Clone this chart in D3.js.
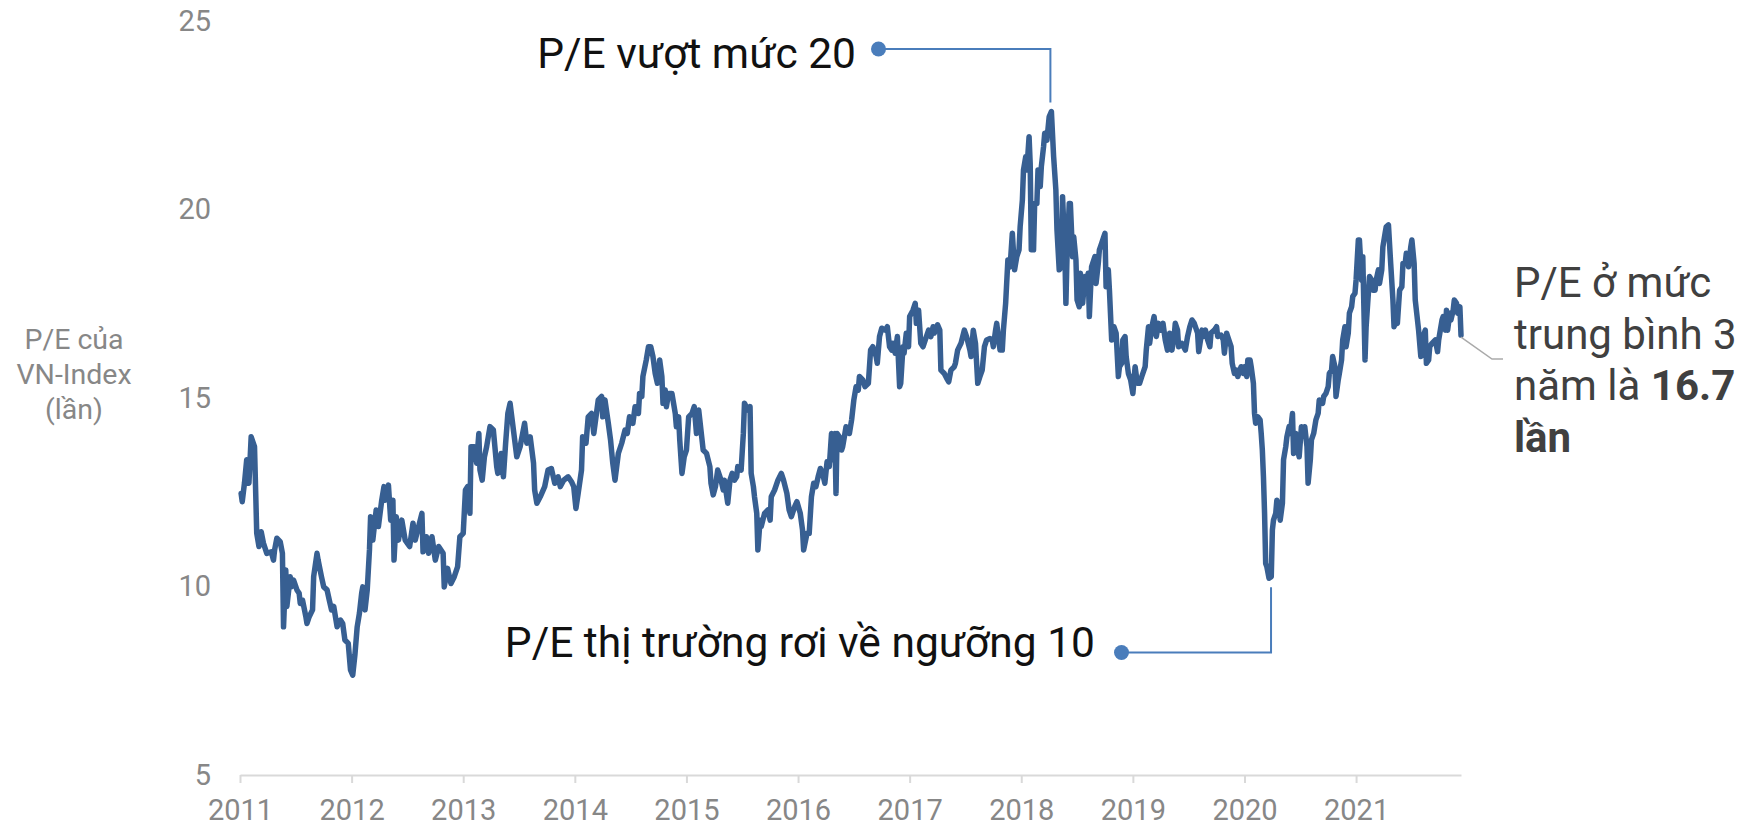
<!DOCTYPE html>
<html>
<head>
<meta charset="utf-8">
<script src="https://cdn.jsdelivr.net/npm/d3@7"></script>
<style>
  body { margin: 0; background: #fff; }
  svg { display: block; font-family: Roboto, "Noto Sans", sans-serif; }
</style>
</head>
<body>
<div id="chart"></div>
<script>
// P/E của VN-Index: [year as decimal, P/E]
var pe2011_2012 = [
  [2011.01,12.47],[2011.02,12.25],[2011.04,12.74],[2011.06,13.36],[2011.08,12.74],[2011.10,13.97],[2011.13,13.71],[2011.15,11.41],
  [2011.17,11.06],[2011.19,11.45],[2011.21,11.15],[2011.24,10.88],[2011.28,10.92],[2011.30,10.70],[2011.31,10.97],[2011.33,11.28],
  [2011.36,11.19],[2011.38,10.88],[2011.39,8.93],[2011.41,10.44],[2011.42,9.47],[2011.45,10.26],[2011.46,9.99],[2011.48,10.17],
  [2011.51,9.91],[2011.53,9.82],[2011.54,9.55],[2011.56,9.64],[2011.59,9.20],[2011.60,9.02],[2011.62,9.20],[2011.65,9.38],
  [2011.66,10.26],[2011.69,10.88],[2011.70,10.70],[2011.73,10.26],[2011.75,9.99],[2011.78,9.91],[2011.80,9.64],[2011.82,9.38],
  [2011.84,9.47],[2011.87,8.93],[2011.90,9.11],[2011.92,9.02],[2011.94,8.58],[2011.97,8.49],[2011.99,7.79],
  [2012.01,7.65],[2012.03,8.20],[2012.05,8.93],[2012.07,9.29],[2012.09,9.82],[2012.10,9.99],[2012.12,9.38],[2012.14,9.91],
  [2012.16,10.97],[2012.17,11.85],[2012.19,11.23],[2012.22,12.03],[2012.24,11.59],[2012.27,12.29],[2012.29,12.65],[2012.30,12.29],
  [2012.33,12.69],[2012.35,11.76],[2012.37,12.29],[2012.38,10.70],[2012.40,11.85],[2012.42,11.23],[2012.45,11.76],[2012.48,11.23],
  [2012.52,11.06],[2012.55,11.68],[2012.57,11.23],[2012.63,11.94],[2012.64,10.92],[2012.67,11.32],[2012.69,10.88],[2012.72,11.32],
  [2012.75,10.70],[2012.78,11.06],[2012.82,10.88],[2012.83,9.99],[2012.86,10.48],[2012.89,10.08],[2012.92,10.26],[2012.95,10.53],
  [2012.97,11.32]
];
var pe2013_2014 = [
  [2013.00,11.41],[2013.02,12.56],[2013.04,12.65],[2013.06,11.94],[2013.07,13.71],[2013.10,13.71],[2013.12,13.27],[2013.14,14.06],
  [2013.15,13.09],[2013.17,12.82],[2013.19,13.44],[2013.21,13.71],[2013.24,14.24],[2013.27,14.15],[2013.30,13.18],[2013.31,13.00],
  [2013.34,13.53],[2013.36,12.91],[2013.38,13.80],[2013.40,14.59],[2013.42,14.86],[2013.45,14.15],[2013.48,13.44],[2013.51,13.71],
  [2013.55,14.33],[2013.57,13.80],[2013.60,13.97],[2013.63,13.27],[2013.64,12.56],[2013.66,12.21],[2013.69,12.38],[2013.73,12.65],
  [2013.76,13.09],[2013.79,13.13],[2013.82,12.74],[2013.85,12.91],[2013.87,12.65],[2013.90,12.82],[2013.94,12.91],[2013.97,12.78],
  [2013.99,12.65],
  [2014.01,12.07],[2014.03,12.47],[2014.06,13.09],[2014.07,13.97],[2014.10,13.80],[2014.12,14.50],[2014.15,14.59],[2014.17,14.06],
  [2014.21,14.95],[2014.24,15.04],[2014.25,14.50],[2014.27,14.95],[2014.30,14.33],[2014.32,13.89],[2014.34,13.27],[2014.36,12.82],
  [2014.39,13.53],[2014.42,13.80],[2014.45,14.15],[2014.47,14.06],[2014.49,14.50],[2014.52,14.33],[2014.54,14.77],[2014.57,14.59],
  [2014.58,15.12],[2014.60,15.04],[2014.61,15.57],[2014.64,16.01],[2014.66,16.36],[2014.68,16.36],[2014.70,16.10],[2014.72,15.65],
  [2014.74,15.39],[2014.76,16.01],[2014.78,15.57],[2014.79,14.86],[2014.81,15.21],[2014.82,14.77],[2014.84,15.12],[2014.87,15.12],
  [2014.90,14.59],[2014.91,14.24],[2014.93,14.50],[2014.94,13.89],[2014.96,13.00],[2014.98,13.44]
];
var pe2015_2016 = [
  [2015.00,13.62],[2015.02,14.50],[2015.05,14.59],[2015.07,14.77],[2015.09,14.06],[2015.11,14.68],[2015.13,14.15],[2015.15,13.62],
  [2015.18,13.53],[2015.21,13.18],[2015.22,12.74],[2015.24,12.43],[2015.26,12.65],[2015.28,13.09],[2015.31,12.82],[2015.33,12.56],
  [2015.34,12.82],[2015.37,12.21],[2015.39,12.82],[2015.41,13.00],[2015.43,12.82],[2015.45,12.91],[2015.46,13.18],[2015.49,13.09],
  [2015.51,14.06],[2015.52,14.86],[2015.55,14.68],[2015.57,14.77],[2015.58,13.00],[2015.60,12.65],[2015.61,12.38],[2015.63,11.94],
  [2015.64,10.97],[2015.66,11.76],[2015.67,11.59],[2015.70,11.94],[2015.73,12.03],[2015.75,11.76],[2015.76,12.38],[2015.79,12.56],
  [2015.82,12.82],[2015.85,13.00],[2015.87,12.82],[2015.90,12.47],[2015.92,12.03],[2015.94,11.85],[2015.97,12.12],[2015.99,12.25],
  [2016.02,11.94],[2016.04,11.50],[2016.05,10.97],[2016.08,11.41],[2016.10,11.41],[2016.12,12.38],[2016.14,12.74],[2016.16,12.65],
  [2016.18,12.91],[2016.20,13.13],[2016.22,13.00],[2016.24,12.74],[2016.26,13.31],[2016.28,13.18],[2016.30,14.06],[2016.31,13.36],
  [2016.33,14.06],[2016.34,12.47],[2016.35,14.06],[2016.37,13.97],[2016.39,13.62],[2016.40,13.71],[2016.42,14.06],[2016.43,14.24],
  [2016.46,14.06],[2016.48,14.42],[2016.50,14.95],[2016.52,15.30],[2016.54,15.21],[2016.55,15.57],[2016.58,15.48],[2016.60,15.30],
  [2016.63,15.39],[2016.65,16.27],[2016.67,16.36],[2016.70,16.10],[2016.71,15.92],[2016.73,16.63],[2016.75,16.85],[2016.78,16.80],
  [2016.80,16.89],[2016.82,16.36],[2016.84,16.27],[2016.85,16.45],[2016.87,16.19],[2016.89,16.63],[2016.91,15.30],[2016.92,15.39],
  [2016.94,16.36],[2016.95,16.19],[2016.97,16.72],[2016.99,16.36]
];
var pe2017_2018 = [
  [2017.00,17.16],[2017.03,17.33],[2017.05,17.51],[2017.06,16.98],[2017.08,17.33],[2017.10,16.45],[2017.12,16.36],[2017.14,16.54],
  [2017.17,16.80],[2017.19,16.63],[2017.21,16.89],[2017.22,16.72],[2017.25,16.94],[2017.27,16.80],[2017.28,15.74],[2017.31,15.65],
  [2017.34,15.48],[2017.35,15.43],[2017.37,15.74],[2017.40,15.83],[2017.41,15.92],[2017.43,16.27],[2017.46,16.45],[2017.49,16.80],
  [2017.51,16.63],[2017.54,16.27],[2017.55,16.10],[2017.57,16.80],[2017.59,16.45],[2017.61,15.39],[2017.63,15.57],[2017.65,15.74],
  [2017.67,16.36],[2017.69,16.54],[2017.72,16.58],[2017.74,16.54],[2017.75,16.36],[2017.77,16.80],[2017.78,16.98],[2017.81,16.27],
  [2017.83,16.27],[2017.84,16.80],[2017.86,17.51],[2017.88,18.66],[2017.90,18.48],[2017.92,19.37],[2017.94,18.40],[2017.96,18.75],
  [2017.98,18.93],[2017.99,19.54],
  [2018.01,20.25],[2018.02,21.05],[2018.04,21.40],[2018.05,21.05],[2018.07,21.93],[2018.08,21.22],[2018.09,18.93],[2018.11,18.93],
  [2018.12,20.16],[2018.14,20.16],[2018.15,21.05],[2018.17,20.61],[2018.18,21.14],[2018.20,21.67],[2018.21,22.02],[2018.23,21.84],
  [2018.25,22.46],[2018.27,22.60],[2018.29,21.40],[2018.31,20.52],[2018.32,19.46],[2018.34,18.40],[2018.36,18.48],[2018.37,20.34],
  [2018.39,18.93],[2018.40,17.51],[2018.41,18.75],[2018.43,20.16],[2018.44,20.16],[2018.46,18.75],[2018.47,19.28],[2018.49,18.66],
  [2018.50,17.60],[2018.52,17.42],[2018.53,18.31],[2018.55,17.51],[2018.57,18.22],[2018.58,17.86],[2018.60,18.31],[2018.61,17.16],
  [2018.63,18.48],[2018.64,18.57],[2018.66,18.75],[2018.67,18.04],[2018.69,18.57],[2018.70,18.93],[2018.72,19.10],[2018.74,19.28],
  [2018.75,19.37],[2018.76,17.95],[2018.78,18.40],[2018.79,17.86],[2018.81,16.54],[2018.83,16.89],[2018.85,16.72],[2018.87,15.57],
  [2018.88,15.83],[2018.90,15.92],[2018.91,16.54],[2018.93,16.63],[2018.94,16.10],[2018.96,15.65],[2018.98,15.48]
];
var pe2019_2020 = [
  [2019.00,15.12],[2019.02,15.83],[2019.04,15.39],[2019.06,15.39],[2019.08,15.57],[2019.11,15.83],[2019.12,16.27],[2019.14,16.89],
  [2019.15,16.45],[2019.17,16.89],[2019.19,17.16],[2019.21,16.63],[2019.23,16.98],[2019.25,16.80],[2019.27,16.98],[2019.29,16.54],
  [2019.31,16.27],[2019.33,16.72],[2019.35,16.27],[2019.37,16.63],[2019.38,16.98],[2019.40,16.80],[2019.41,16.36],[2019.44,16.45],
  [2019.47,16.27],[2019.49,16.63],[2019.51,16.89],[2019.53,17.07],[2019.55,16.98],[2019.58,16.72],[2019.59,16.23],[2019.62,16.80],
  [2019.63,16.63],[2019.65,16.80],[2019.67,16.54],[2019.69,16.36],[2019.70,16.72],[2019.73,16.80],[2019.75,16.89],[2019.76,16.63],
  [2019.79,16.67],[2019.81,16.54],[2019.82,16.19],[2019.84,16.72],[2019.85,16.63],[2019.88,16.36],[2019.89,15.92],[2019.91,15.65],
  [2019.93,15.74],[2019.94,15.57],[2019.97,15.83],[2019.99,15.65],
  [2020.00,15.83],[2020.02,15.57],[2020.03,16.01],[2020.05,16.01],[2020.06,15.83],[2020.08,15.39],[2020.09,14.59],[2020.10,14.33],
  [2020.12,14.50],[2020.14,14.42],[2020.15,14.06],[2020.16,13.62],[2020.17,12.91],[2020.18,11.94],[2020.19,10.61],[2020.20,10.53],
  [2020.22,10.22],[2020.24,10.26],[2020.25,11.50],[2020.26,11.76],[2020.28,11.94],[2020.29,12.29],[2020.31,12.12],[2020.32,11.76],
  [2020.34,12.21],[2020.35,13.36],[2020.37,13.71],[2020.38,13.97],[2020.40,14.24],[2020.41,14.06],[2020.43,14.59],[2020.44,13.53],
  [2020.46,14.06],[2020.47,13.71],[2020.49,13.44],[2020.51,14.24],[2020.53,14.06],[2020.54,14.24],[2020.56,13.71],[2020.57,12.74],
  [2020.59,13.36],[2020.60,13.89],[2020.62,14.06],[2020.64,14.42],[2020.66,14.59],[2020.67,14.95],[2020.70,14.86],[2020.71,15.04],
  [2020.73,15.12],[2020.75,15.30],[2020.76,15.65],[2020.78,15.74],[2020.79,16.10],[2020.81,15.83],[2020.82,15.04],[2020.84,15.48],
  [2020.85,15.65],[2020.87,16.01],[2020.88,16.54],[2020.90,16.89],[2020.91,16.36],[2020.93,16.72],[2020.94,17.25],[2020.96,17.42],
  [2020.97,17.69],[2020.99,17.78]
];
var pe2021 = [
  [2021.00,18.13],[2021.02,19.19],[2021.03,19.19],[2021.05,18.13],[2021.06,18.75],[2021.08,16.01],[2021.09,16.89],[2021.11,17.78],
  [2021.12,18.22],[2021.14,18.13],[2021.15,17.86],[2021.17,17.86],[2021.18,18.13],[2021.20,18.40],[2021.21,18.04],[2021.23,18.40],
  [2021.24,19.01],[2021.26,19.37],[2021.27,19.54],[2021.29,19.59],[2021.31,18.57],[2021.33,17.60],[2021.34,16.89],[2021.36,17.07],
  [2021.37,16.98],[2021.39,17.86],[2021.41,17.95],[2021.42,18.57],[2021.44,18.57],[2021.45,18.84],[2021.47,18.48],[2021.49,19.01],
  [2021.50,19.19],[2021.52,18.57],[2021.53,17.60],[2021.55,17.07],[2021.56,16.80],[2021.58,16.10],[2021.60,16.63],[2021.62,16.80],
  [2021.63,15.92],[2021.65,16.01],[2021.66,16.36],[2021.68,16.45],[2021.71,16.54],[2021.73,16.23],[2021.74,16.54],[2021.77,17.07],
  [2021.78,17.16],[2021.80,16.80],[2021.81,17.33],[2021.82,16.80],[2021.84,17.25],[2021.85,17.07],[2021.87,17.33],[2021.88,17.60],
  [2021.90,17.51],[2021.91,17.25],[2021.93,17.42],[2021.94,16.67]
];

var xTickYears = [2011, 2012, 2013, 2014, 2015, 2016, 2017, 2018, 2019, 2020, 2021];
var yTickValues = [5, 10, 15, 20, 25];
var yTitleLines = ["P/E của", "VN-Index", "(lần)"];
var peakNote = "P/E vượt mức 20";
var troughNote = "P/E thị trường rơi về ngưỡng 10";
var endNote = ["P/E ở mức", "trung bình 3"]; // then "năm là 16.7 lần" with bold parts

var data = [].concat(pe2011_2012, pe2013_2014, pe2015_2016, pe2017_2018, pe2019_2020, pe2021)
  .map(function(d) { return { t: d[0], v: d[1] }; });

var margin = { top: 21, right: 291, bottom: 51, left: 240 },
    width = 1752 - margin.left - margin.right,
    height = 826 - margin.top - margin.bottom;

var svg = d3.select("#chart").append("svg")
    .attr("width", width + margin.left + margin.right)
    .attr("height", height + margin.top + margin.bottom);

var chartGroup = svg.append("g")
    .attr("transform", "translate(" + margin.left + "," + margin.top + ")");

var x = d3.scaleLinear()
    .domain([2011, d3.max(data, function(d) { return d.t; })])
    .range([0, width]);
var y = d3.scaleLinear()
    .domain([5, 25])
    .range([height, 0]);

// x axis
var xAxis = chartGroup.append("g")
    .attr("transform", "translate(0," + height + ")")
    .call(d3.axisBottom(x).tickValues(xTickYears).tickFormat(d3.format("d"))
      .tickSize(8).tickSizeOuter(0).tickPadding(16));
xAxis.select(".domain").attr("stroke", "#d9d9d9").attr("stroke-width", 2);
xAxis.selectAll(".tick line").attr("stroke", "#d9d9d9").attr("stroke-width", 2);
xAxis.selectAll(".tick text")
    .style("font-size", "29px")
    .style("font-family", "Roboto")
    .attr("fill", "#878787");

// y axis (labels only)
var yAxis = chartGroup.append("g")
    .call(d3.axisLeft(y).tickValues(yTickValues).tickSize(0).tickPadding(29));
yAxis.select(".domain").remove();
yAxis.selectAll(".tick text")
    .style("font-size", "29px")
    .style("font-family", "Roboto")
    .attr("fill", "#878787");

// y axis title
var yTitle = chartGroup.append("text")
    .attr("text-anchor", "middle")
    .style("font-size", "28.5px")
    .attr("fill", "#878787");
yTitle.selectAll("tspan")
    .data(yTitleLines)
    .enter().append("tspan")
    .attr("x", -166)
    .attr("y", function(d, i) { return 328 + i * 35; })
    .text(function(d) { return d; });

// series
var line = d3.line()
    .x(function(d) { return x(d.t); })
    .y(function(d) { return y(d.v); });

chartGroup.append("path")
    .datum(data)
    .attr("d", line)
    .attr("fill", "none")
    .attr("stroke", "#375f92")
    .attr("stroke-width", 5.5)
    .attr("stroke-linejoin", "round")
    .attr("stroke-linecap", "round");

var noteBlue = "#4a7dbb";

// peak annotation
var peak = d3.greatest(data, function(d) { return d.v; });
chartGroup.append("path")
    .attr("d", "M638.5,28H" + (x(peak.t) - 1) + "V" + (y(peak.v) - 9))
    .attr("fill", "none")
    .attr("stroke", noteBlue)
    .attr("stroke-width", 2);
chartGroup.append("circle")
    .attr("cx", 638.5).attr("cy", 28).attr("r", 7.5)
    .attr("fill", noteBlue);
chartGroup.append("text")
    .attr("x", 616).attr("y", 47)
    .attr("text-anchor", "end")
    .style("font-size", "42.5px")
    .attr("fill", "#111")
    .text(peakNote);

// trough annotation (2020)
var trough = d3.least(data.filter(function(d) { return d.t > 2019; }), function(d) { return d.v; });
chartGroup.append("path")
    .attr("d", "M881.5,631.5H" + (x(trough.t) + 2) + "V" + (y(trough.v) + 9))
    .attr("fill", "none")
    .attr("stroke", noteBlue)
    .attr("stroke-width", 2);
chartGroup.append("circle")
    .attr("cx", 881.5).attr("cy", 631.5).attr("r", 7.5)
    .attr("fill", noteBlue);
chartGroup.append("text")
    .attr("x", 855).attr("y", 636)
    .attr("text-anchor", "end")
    .style("font-size", "42.5px")
    .attr("fill", "#111")
    .text(troughNote);

// end note
var last = data[data.length - 1];
var lx = x(last.t), ly = y(last.v);
chartGroup.append("path")
    .attr("d", "M" + lx + "," + (ly + 2) + "L" + (lx + 31) + "," + (ly + 24) + "H" + (lx + 42))
    .attr("fill", "none")
    .attr("stroke", "#aaaaaa")
    .attr("stroke-width", 1.5);

var endText = chartGroup.append("text")
    .style("font-size", "42px")
    .attr("fill", "#404040");
endNote.forEach(function(s, i) {
  endText.append("tspan").attr("x", 1274).attr("y", 276 + i * 51.7).text(s);
});
endText.append("tspan").attr("x", 1274).attr("y", 276 + 2 * 51.7).text("năm là ");
endText.append("tspan").style("font-weight", "bold").text("16.7");
endText.append("tspan").attr("x", 1274).attr("y", 276 + 3 * 51.7)
    .style("font-weight", "bold").text("lần");
</script>
</body>
</html>
